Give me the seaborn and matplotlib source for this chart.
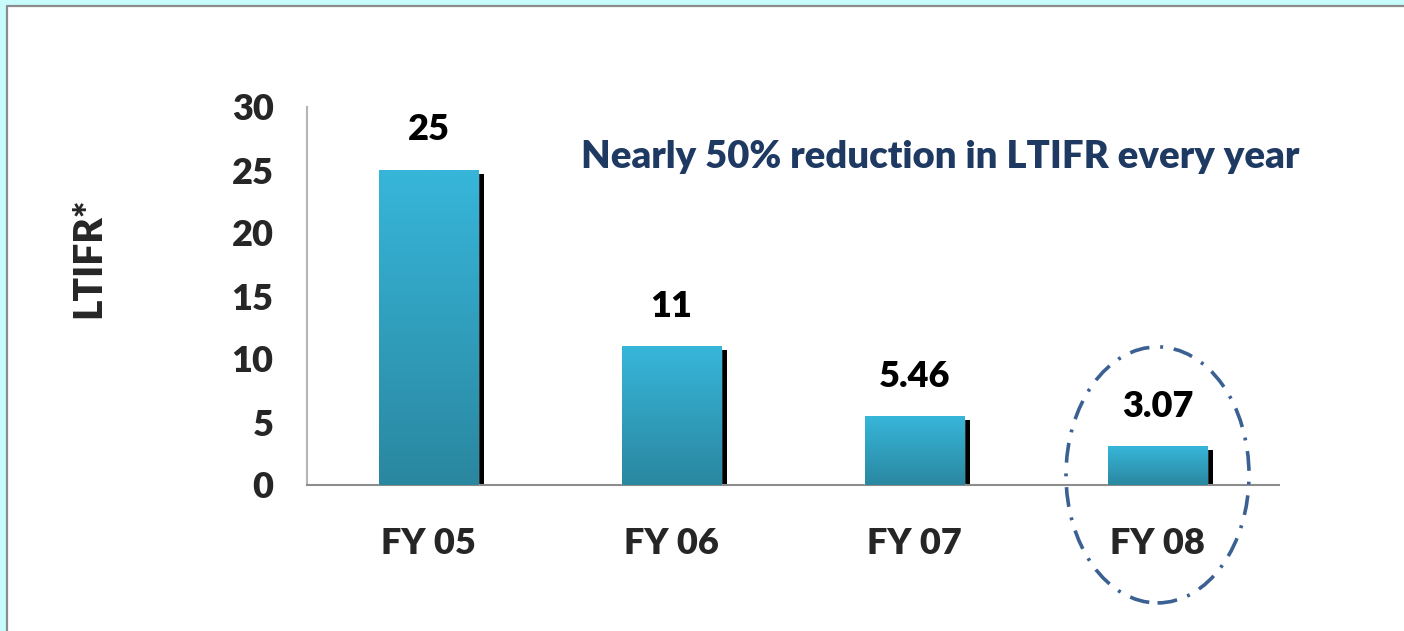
import numpy as np
import pandas as pd
import matplotlib
matplotlib.use("Agg")
import matplotlib.pyplot as plt
import seaborn as sns
from matplotlib.patches import Rectangle, Ellipse
from matplotlib.colors import LinearSegmentedColormap

years = ["FY 05", "FY 06", "FY 07", "FY 08"]
ltifr = [25, 11, 5.46, 3.07]
value_labels = ["25", "11", "5.46", "3.07"]
y_ticks = [0, 5, 10, 15, 20, 25, 30]
note = "Nearly 50% reduction in LTIFR every year"

sns.set_style("white")
plt.rcParams["font.family"] = ["Lato", "DejaVu Sans"]
WEIGHT = "heavy"

df = pd.DataFrame({"year": years, "ltifr": ltifr})

fig = plt.figure(figsize=(14.04, 6.31), dpi=100)
fig.patch.set_facecolor("#c8fcfc")

# white slide panel with grey top/left edge
W, H = 1404, 631
fig.add_artist(Rectangle((7 / W, 0), 1, (H - 6) / H, transform=fig.transFigure,
                         facecolor="white", edgecolor="none", zorder=0))
fig.add_artist(plt.Line2D([7 / W, 7 / W], [0, (H - 6) / H], transform=fig.transFigure,
                          color="#8c8c8c", lw=1.6, zorder=1))
fig.add_artist(plt.Line2D([7 / W, 1], [(H - 6) / H, (H - 6) / H], transform=fig.transFigure,
                          color="#8c8c8c", lw=1.6, zorder=1))

ax = fig.add_axes([307 / W, (H - 485) / H, 972 / W, 378 / H])
ax.set_facecolor("none")

sns.barplot(data=df, x="year", y="ltifr", width=0.41, color="#36b4d8",
            saturation=1, ax=ax, zorder=3)

cmap = LinearSegmentedColormap.from_list("bar", ["#2a87a0", "#37b6da"])
grad = np.linspace(0, 1, 256).reshape(-1, 1)
for bar in list(ax.patches):
    x0 = bar.get_x()
    w = bar.get_width()
    h = bar.get_height()
    # drop shadow
    ax.add_patch(Rectangle((x0 + 6 / 243, 0), w, h - 4 / 12.6,
                           facecolor="black", edgecolor="none", zorder=2))
    im = ax.imshow(grad, cmap=cmap, extent=[x0, x0 + w, 0, h], origin="lower",
                   aspect="auto", zorder=4)
    im.set_clip_path(bar)

for i, (v, lab) in enumerate(zip(ltifr, value_labels)):
    ax.annotate(lab, (i, v), xytext=(0, 17), textcoords="offset points",
                ha="center", va="bottom", fontsize=26, fontweight=WEIGHT,
                color="black", zorder=5)

ax.set_xlim(-0.5, 3.5)
ax.set_ylim(0, 30)
ax.set_yticks(y_ticks)
ax.tick_params(axis="y", length=0, pad=24, labelsize=26)
ax.tick_params(axis="x", length=0, pad=30, labelsize=26)
for t in ax.get_xticklabels() + ax.get_yticklabels():
    t.set_fontweight(WEIGHT)

sns.despine(ax=ax)
ax.spines["left"].set_color("#b4b4b4")
ax.spines["bottom"].set_color("#8c8c8c")
ax.spines["left"].set_linewidth(1.5)
ax.spines["bottom"].set_linewidth(1.5)

ax.set_xlabel("")
ax.set_ylabel("LTIFR*", fontsize=28, fontweight=WEIGHT)
ax.yaxis.set_label_coords(-0.205, 0.6)

ax.text(2.105, 26.0, note, ha="center", va="center", fontsize=27.5,
        fontweight=WEIGHT, color="#1f3a62", zorder=5)

# highlight the latest year
ax.add_patch(Ellipse((3, 0.8), 183 / 243, 256 / 12.6, fill=False,
                     edgecolor="#3b6193", lw=2.6, linestyle=(0, (5.5, 3.0, 0.8, 3.0)),
                     clip_on=False, zorder=6))

fig.savefig("out.png", dpi=100)
